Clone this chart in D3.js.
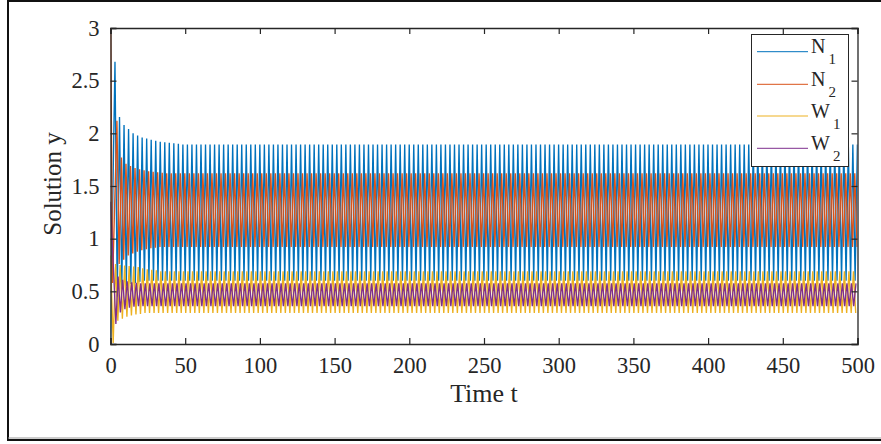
<!DOCTYPE html>
<html>
<head>
<meta charset="utf-8">
<script src="https://cdn.jsdelivr.net/npm/d3@7"></script>
<style>
  body { margin: 0; background: #fff; }
  svg text { font-family: "Liberation Serif", "Times New Roman", serif !important; fill: #262626; }
</style>
</head>
<body>
<svg id="chart" width="881" height="444"></svg>
<script>
// values
var tEnd = 500;
var period = 3.03;               // time between successive peaks
var xTicks = [0, 50, 100, 150, 200, 250, 300, 350, 400, 450, 500];
var yTicks = [0, 0.5, 1, 1.5, 2, 2.5, 3];
var yTickLabels = ["0", "0.5", "1", "1.5", "2", "2.5", "3"];
var legendNames = [["N", "1"], ["N", "2"], ["W", "1"], ["W", "2"]];
var colors = ["#0072BD", "#D95319", "#EDB120", "#7E2F8E"];

// N1
var n1Start = [[0, 0.05]];
var n1FirstPeak = 3.0;
var n1Peaks = [2.68, 2.155, 2.08, 2.04, 2.00, 1.98, 1.96, 1.95, 1.94, 1.93, 1.92, 1.915, 1.91, 1.905, 1.90];
var n1Troughs = [0.45, 0.52, 0.55, 0.57, 0.58, 0.59];
var n1Steady = [1.895, 0.6];
// N2
var n2Start = [[0, 3.2], [1.4, 0.58]];
var n2FirstPeak = 4.3;
var n2Peaks = [2.12, 1.77, 1.71, 1.69, 1.67, 1.66, 1.65, 1.64, 1.635, 1.63, 1.625];
var n2Troughs = [0.76, 0.80, 0.84, 0.86, 0.875, 0.89, 0.9, 0.91, 0.915];
var n2Steady = [1.62, 0.92];
// W1
var w1Start = [[0, 0.84], [1.8, 0.01]];
var w1FirstPeak = 3.4;
var w1Peaks = [0.76, 0.75, 0.745, 0.74, 0.735, 0.73, 0.72, 0.71, 0.705, 0.70];
var w1Troughs = [0.22, 0.24, 0.26, 0.27, 0.28, 0.285];
var w1Steady = [0.69, 0.295];
// W2
var w2Start = [[0, 1.35], [3.6, 0.19]];
var w2FirstPeak = 5.1;
var w2Peaks = [0.64, 0.61, 0.595, 0.585, 0.58];
var w2Troughs = [0.3, 0.33, 0.345, 0.355];
var w2Steady = [0.575, 0.36];

// chain the listed peaks and troughs, then hold the settled values
function series(start, firstPeak, peaks, troughs, steady) {
    var pts = start.slice();
    for (var k = 0; ; k++) {
        var tp = firstPeak + k * period;
        if (tp > tEnd) break;
        pts.push([tp, k < peaks.length ? peaks[k] : steady[0]]);
        var tt = tp + period / 2;
        if (tt > tEnd) break;
        pts.push([tt, k < troughs.length ? troughs[k] : steady[1]]);
    }
    return pts;
}

var data = [
    series(n1Start, n1FirstPeak, n1Peaks, n1Troughs, n1Steady),
    series(n2Start, n2FirstPeak, n2Peaks, n2Troughs, n2Steady),
    series(w1Start, w1FirstPeak, w1Peaks, w1Troughs, w1Steady),
    series(w2Start, w2FirstPeak, w2Peaks, w2Troughs, w2Steady)
];

var plot = { left: 110.5, right: 857.5, top: 28, bottom: 344 };
var x = d3.scaleLinear().domain([0, 500]).range([plot.left, plot.right]);
var y = d3.scaleLinear().domain([0, 3]).range([plot.bottom, plot.top]);

var svg = d3.select("#chart");

// figure frame
svg.append("rect").attr("x", 8).attr("y", 1).attr("width", 900).attr("height", 439)
    .attr("fill", "none").attr("stroke", "#111").attr("stroke-width", 2);
svg.append("line").attr("x1", 8).attr("x2", 881).attr("y1", 438).attr("y2", 438)
    .attr("stroke", "#999").attr("stroke-width", 1);

svg.append("clipPath").attr("id", "clip").append("rect")
    .attr("x", plot.left).attr("y", plot.top)
    .attr("width", plot.right - plot.left).attr("height", plot.bottom - plot.top);

var line = d3.line().x(function (d) { return x(d[0]); }).y(function (d) { return y(d[1]); });
svg.append("g").attr("clip-path", "url(#clip)")
    .selectAll("path").data(data).enter().append("path")
    .attr("d", line).attr("fill", "none")
    .attr("stroke", function (d, i) { return colors[i]; })
    .attr("stroke-width", 1.35);

// axes, MATLAB-like box with inward ticks
var tickLen = 6;
svg.append("g").attr("transform", "translate(0," + plot.bottom + ")")
    .call(d3.axisBottom(x).tickValues(xTicks).tickSize(-tickLen).tickPadding(13).tickFormat(d3.format("d")));
svg.append("g").attr("transform", "translate(0," + plot.top + ")")
    .call(d3.axisTop(x).tickValues(xTicks).tickSize(-tickLen).tickFormat(""));
svg.append("g").attr("transform", "translate(" + plot.left + ",0)")
    .call(d3.axisLeft(y).tickValues(yTicks).tickSize(-tickLen).tickPadding(11)
        .tickFormat(function (d, i) { return yTickLabels[i]; }));
svg.append("g").attr("transform", "translate(" + plot.right + ",0)")
    .call(d3.axisRight(y).tickValues(yTicks).tickSize(-tickLen).tickFormat(""));
svg.selectAll(".domain").attr("stroke", "#262626").attr("stroke-width", 1.3);
svg.selectAll(".tick line").attr("stroke", "#262626").attr("stroke-width", 1.2);
svg.selectAll(".tick text").attr("font-size", 22.5).attr("fill", "#262626");

// axis labels
svg.append("text").attr("x", 484).attr("y", 402).attr("text-anchor", "middle")
    .attr("font-size", 26).text("Time t");
svg.append("text").attr("transform", "translate(61,184) rotate(-90)").attr("text-anchor", "middle")
    .attr("font-size", 25).text("Solution y");

// legend
var lg = svg.append("g");
lg.append("rect").attr("x", 751.5).attr("y", 34.5).attr("width", 97).attr("height", 132)
    .attr("fill", "#fff").attr("stroke", "#262626").attr("stroke-width", 1);
var rows = [51.7, 84.3, 116, 148.3];
legendNames.forEach(function (n, i) {
    lg.append("line").attr("x1", 757).attr("x2", 808).attr("y1", rows[i]).attr("y2", rows[i])
        .attr("stroke", colors[i]).attr("stroke-width", 1);
    var t = lg.append("text").attr("x", 811).attr("y", rows[i] + 1.5).attr("font-size", 20);
    t.append("tspan").text(n[0]);
    t.append("tspan").attr("dx", 3).attr("dy", 11).attr("font-size", 15).text(n[1]);
});
</script>
</body>
</html>
